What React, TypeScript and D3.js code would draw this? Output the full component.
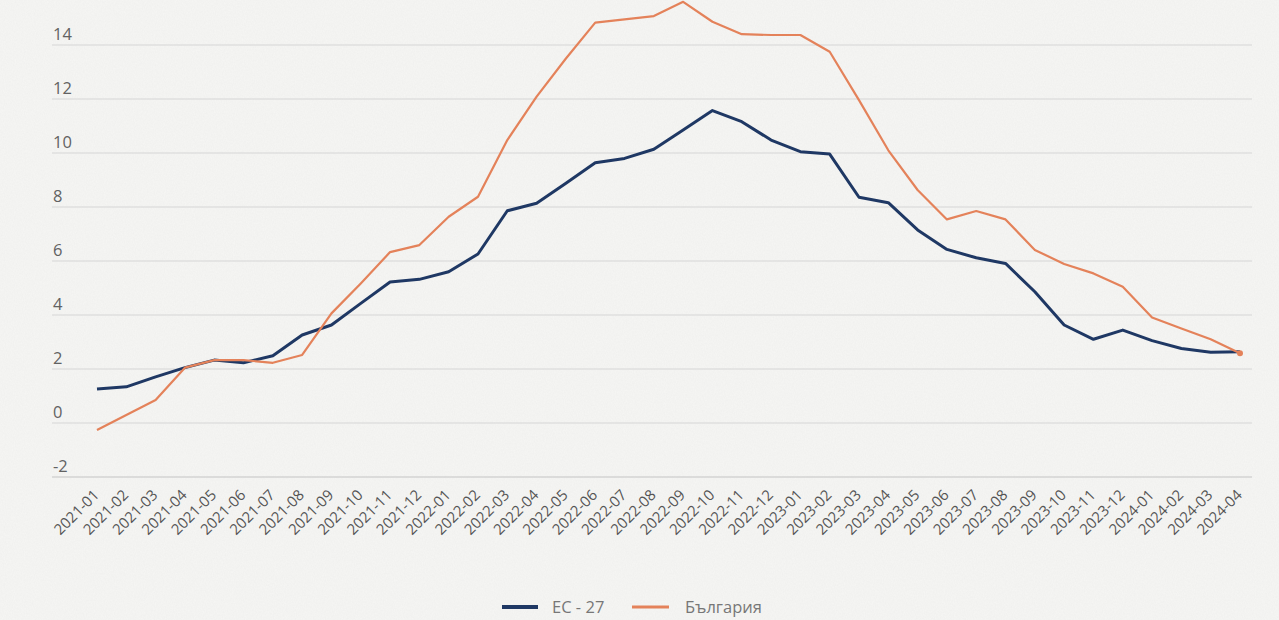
import React from "react";
import * as d3 from "d3";

const months: string[] = [
  "2021-01","2021-02","2021-03","2021-04","2021-05","2021-06","2021-07","2021-08","2021-09","2021-10","2021-11","2021-12",
  "2022-01","2022-02","2022-03","2022-04","2022-05","2022-06","2022-07","2022-08","2022-09","2022-10","2022-11","2022-12",
  "2023-01","2023-02","2023-03","2023-04","2023-05","2023-06","2023-07","2023-08","2023-09","2023-10","2023-11","2023-12",
  "2024-01","2024-02","2024-03","2024-04",
];

const eu27: number[] = [
  1.26, 1.34, 1.71, 2.05, 2.33, 2.23, 2.49, 3.26, 3.63, 4.43, 5.22, 5.32,
  5.6, 6.26, 7.86, 8.14, 8.88, 9.64, 9.8, 10.14, 10.85, 11.57, 11.16, 10.48,
  10.05, 9.96, 8.36, 8.16, 7.15, 6.43, 6.12, 5.91, 4.86, 3.63, 3.1, 3.44,
  3.05, 2.76, 2.62, 2.64,
];

const bulgaria: number[] = [
  -0.26, 0.3, 0.85, 2.05, 2.33, 2.33, 2.23, 2.52, 4.06, 5.17, 6.33, 6.59,
  7.64, 8.38, 10.48, 12.09, 13.5, 14.83, 14.95, 15.07, 15.6, 14.86, 14.4, 14.37,
  14.37, 13.75, 11.96, 10.1, 8.63, 7.54, 7.85, 7.54, 6.41, 5.89, 5.54, 5.05,
  3.91, 3.5, 3.1, 2.58,
];

const yTicks: number[] = [-2, 0, 2, 4, 6, 8, 10, 12, 14];

const seriesNames: string[] = ["ЕС - 27", "България"];
const seriesColors: string[] = ["#1f3864", "#e4825a"];

const W = 1279;
const H = 620;

export default function App() {
  const x = d3.scalePoint<string>().domain(months).range([97, 1240]);
  const y = d3.scaleLinear().domain([-2, 14]).range([477, 45]);

  const line = d3
    .line<number>()
    .x((_, i) => x(months[i]) as number)
    .y((d) => y(d));

  const gridLeft = 52;
  const gridRight = 1252;
  const font = "'Open Sans', 'Noto Sans', sans-serif";

  return (
    <div style={{ position: "absolute", left: 0, top: 0 }}>
      <svg width={W} height={H} style={{ display: "block" }}>
        <defs>
          <filter id="tex" x="0" y="0" width="100%" height="100%">
            <feTurbulence type="fractalNoise" baseFrequency="0.9 0.6" numOctaves="2" seed="3" result="n" />
            <feColorMatrix
              in="n"
              type="matrix"
              values="0 0 0 0 0.55  0 0 0 0 0.55  0 0 0 0 0.55  0 0 0 0.35 -0.05"
            />
          </filter>
        </defs>
        <rect x={0} y={0} width={W} height={H} fill="#f5f5f3" />
        <rect x={0} y={0} width={W} height={H} filter="url(#tex)" opacity={0.35} />

        {yTicks.map((t) => (
          <g key={t}>
            <line
              x1={gridLeft}
              x2={gridRight}
              y1={y(t)}
              y2={y(t)}
              stroke={t === -2 ? "#c4c4c4" : "#d6d6d6"}
              strokeWidth={1.2}
            />
            <text
              x={53}
              y={y(t) - 5}
              fontFamily={font}
              fontSize={16.5}
              fill="#626262"
            >
              {t}
            </text>
          </g>
        ))}

        {months.map((m) => {
          const px = (x(m) as number) + 3;
          const py = 496;
          return (
            <text
              key={m}
              x={px}
              y={py}
              transform={`rotate(-45 ${px} ${py})`}
              textAnchor="end"
              fontFamily={font}
              fontSize={15}
              fill="#555"
            >
              {m}
            </text>
          );
        })}

        <path d={line(eu27) || ""} fill="none" stroke={seriesColors[0]} strokeWidth={3} strokeLinejoin="round" />
        <path d={line(bulgaria) || ""} fill="none" stroke={seriesColors[1]} strokeWidth={2.2} strokeLinejoin="round" />
        <circle cx={x(months[months.length - 1]) as number} cy={y(bulgaria[bulgaria.length - 1])} r={3} fill={seriesColors[1]} />

        <g>
          <line x1={502} x2={538} y1={607} y2={607} stroke={seriesColors[0]} strokeWidth={4} />
          <text x={552} y={613} fontFamily={font} fontSize={16.5} fill="#777">
            {seriesNames[0]}
          </text>
          <line x1={632} x2={669} y1={607} y2={607} stroke={seriesColors[1]} strokeWidth={3} />
          <text x={685} y={613} fontFamily={font} fontSize={16.5} fill="#777">
            {seriesNames[1]}
          </text>
        </g>
      </svg>
    </div>
  );
}
